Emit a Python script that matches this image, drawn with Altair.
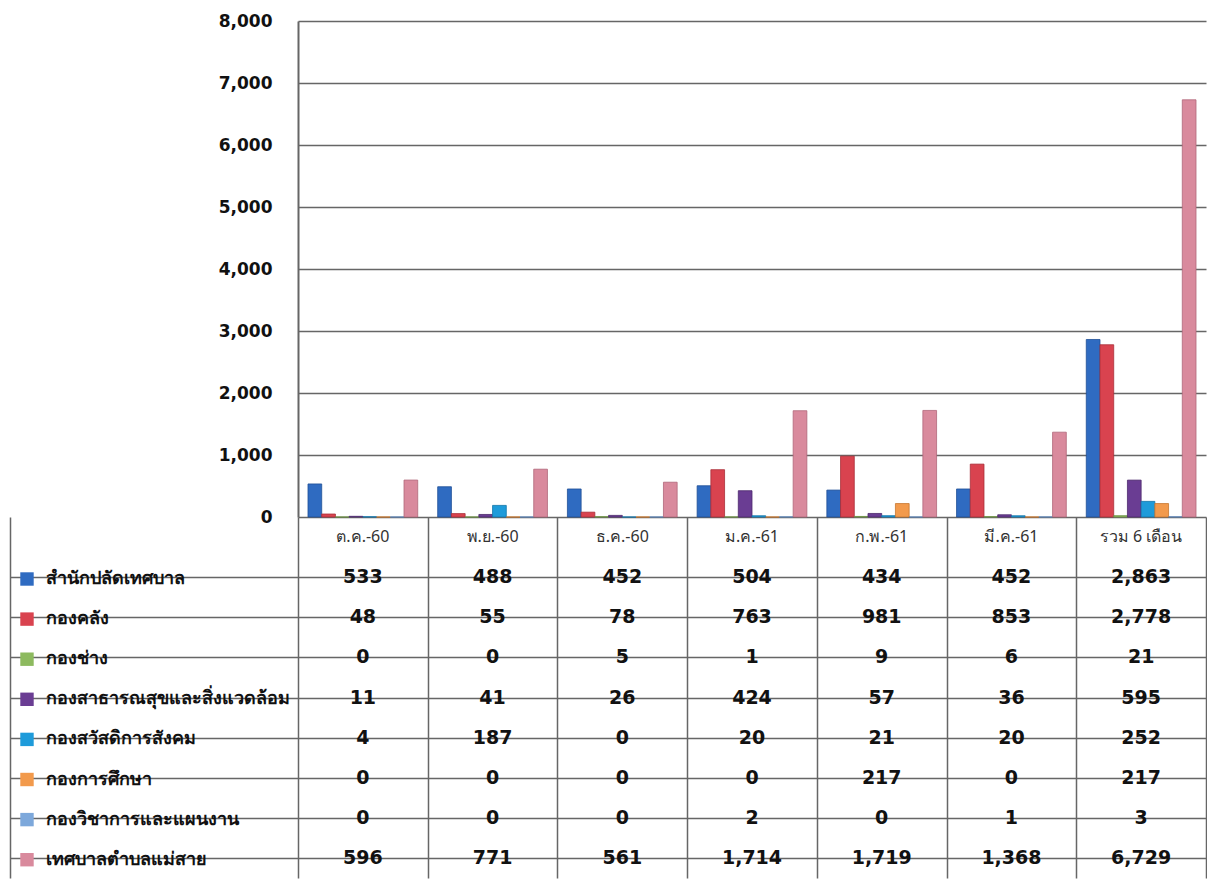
import altair as alt
import pandas as pd

months = ["ต.ค.-60", "พ.ย.-60", "ธ.ค.-60", "ม.ค.-61", "ก.พ.-61", "มี.ค.-61", "รวม 6 เดือน"]
departments = [
    "สำนักปลัดเทศบาล",
    "กองคลัง",
    "กองช่าง",
    "กองสาธารณสุขและสิ่งแวดล้อม",
    "กองสวัสดิการสังคม",
    "กองการศึกษา",
    "กองวิชาการและแผนงาน",
    "เทศบาลตำบลแม่สาย",
]
colors = ["#2F6BC1", "#D9434F", "#8DBA5F", "#6A3D93", "#1E9BDA", "#F29A4C", "#7DA8DB", "#D98A9D"]
strokes = ["#1F4F95", "#A92F39", "#6A9143", "#4C2A6C", "#1275A8", "#C7762F", "#5A83B5", "#B0677A"]

v_office = [533, 488, 452, 504, 434, 452, 2863]
v_finance = [48, 55, 78, 763, 981, 853, 2778]
v_engineer = [0, 0, 5, 1, 9, 6, 21]
v_health = [11, 41, 26, 424, 57, 36, 595]
v_welfare = [4, 187, 0, 20, 21, 20, 252]
v_education = [0, 0, 0, 0, 217, 0, 217]
v_planning = [0, 0, 0, 2, 0, 1, 3]
v_total = [596, 771, 561, 1714, 1719, 1368, 6729]

series = [v_office, v_finance, v_engineer, v_health, v_welfare, v_education, v_planning, v_total]
y_ticks = [0, 1000, 2000, 3000, 4000, 5000, 6000, 7000, 8000]

rows = []
for d, vals in zip(departments, series):
    for m, v in zip(months, vals):
        rows.append({"dept": d, "month": m, "value": v, "row": d, "label": f"{v:,}"})
df = pd.DataFrame(rows)
hdr = pd.DataFrame({"month": months, "row": ["hdr"] * len(months)})

FONT = "Noto Sans"
NUMFONT = "DejaVu Sans"
GRID = "#666666"

bars = alt.Chart(df).mark_bar(strokeWidth=0.8).encode(
    x=alt.X("month:N", sort=months, axis=None,
            scale=alt.Scale(domain=months, paddingInner=0.154, paddingOuter=0.077)),
    xOffset=alt.XOffset("dept:N", sort=departments,
                        scale=alt.Scale(domain=departments, paddingInner=0, paddingOuter=0)),
    y=alt.Y("value:Q", title=None,
            scale=alt.Scale(domain=[0, 8000], nice=False),
            axis=alt.Axis(values=y_ticks, format=",.0f", labelFontSize=17, labelFontWeight="bold",
                          labelColor="#111111", labelFont=NUMFONT, labelPadding=26, ticks=False,
                          domainColor=GRID, domainWidth=2, gridColor=GRID, gridWidth=1.5)),
    color=alt.Color("dept:N", sort=departments, scale=alt.Scale(domain=departments, range=colors),
                    legend=alt.Legend(orient="none", legendX=-280, legendY=549, title=None,
                                      symbolType="square", symbolSize=180, symbolStrokeWidth=0,
                                      labelFontSize=18, labelFontWeight="bold", labelFont=FONT,
                                      labelColor="#111111", labelLimit=270, labelOffset=10,
                                      rowPadding=22.1)),
    stroke=alt.Stroke("dept:N", sort=departments, scale=alt.Scale(domain=departments, range=strokes),
                      legend=None),
).properties(width=908, height=496, view=alt.ViewBackground(stroke="transparent"))

x_tab = alt.X("month:N", sort=months, title=None,
              scale=alt.Scale(domain=months, paddingInner=0, paddingOuter=0),
              axis=alt.Axis(labels=False, ticks=False, domain=False, grid=True,
                            tickBand="extent", gridColor=GRID, gridWidth=1.5))
y_scale = alt.Scale(domain=["hdr"] + departments, paddingInner=0, paddingOuter=0)
y_tab = alt.Y("row:N", title=None, scale=y_scale,
              axis=alt.Axis(values=departments, labels=False, domain=False, bandPosition=0,
                            tickSize=288, tickColor=GRID, tickWidth=1.5,
                            grid=True, gridColor=GRID, gridWidth=1.5))
y_tab_border = alt.Y("row:N", title=None, scale=y_scale,
                     axis=alt.Axis(orient="left", offset=288, labels=False, ticks=False, grid=False,
                                   domain=True, domainColor=GRID, domainWidth=1.5))

header = alt.Chart(hdr).mark_text(fontSize=16, color="#333333", font=FONT).encode(
    x=x_tab, y=y_tab, text="month:N")
cells = alt.Chart(df).mark_text(fontSize=19, fontWeight="bold", color="#111111", font=NUMFONT).encode(
    x=x_tab, y=y_tab_border, text="label:N")

table = alt.layer(header, cells).resolve_axis(y="independent").properties(
    width=908, height=361, view=alt.ViewBackground(stroke="transparent"))

chart = alt.vconcat(bars, table, spacing=0, bounds="flush").properties(
    padding={"left": 0, "top": 3, "right": 0, "bottom": 0},
    background="white",
)

chart.save("out.html", embed_options={"renderer": "svg", "actions": False})
